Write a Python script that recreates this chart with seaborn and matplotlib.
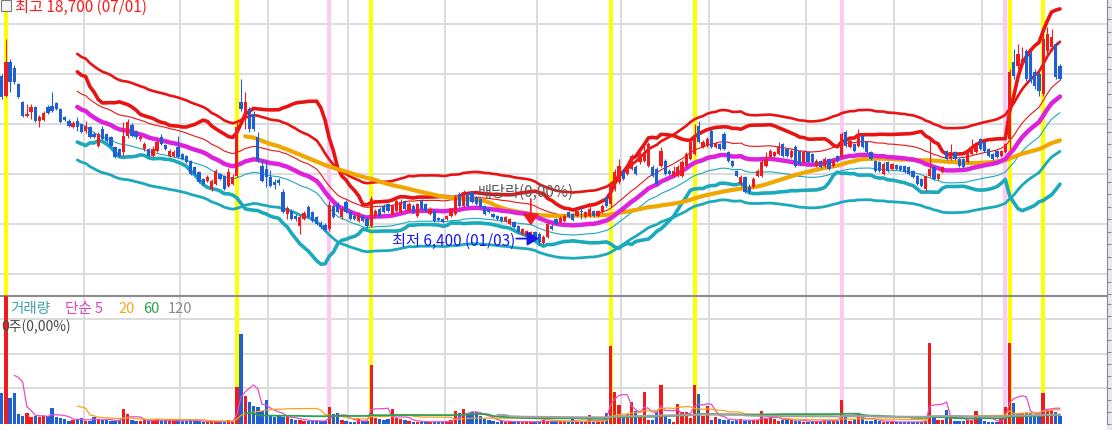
import numpy as np
import pandas as pd
import matplotlib
matplotlib.use("Agg")
import matplotlib.pyplot as plt
from matplotlib.patches import Rectangle
import seaborn as sns

sns.set_style("white")
plt.rcParams['font.family'] = ['Noto Sans CJK KR', 'DejaVu Sans']

# daily bars in won (bar 0 sits just left of the visible window)
open_ = [
    12420, 12350, 11630, 12850, 12640, 12060, 11410, 10910, 11050, 11230,
    10730, 10760, 11230, 11270, 11380, 11160, 10870, 10730, 10510, 10730,
    10620, 10370, 10510, 10260, 9830, 10440, 10260, 10150, 9790, 9720,
    9610, 10190, 10580, 10330, 10080, 9720, 9720, 9470, 9650, 10150,
    9860, 9470, 9470, 9790, 9540, 9470, 9290, 9070, 8890, 8640,
    8570, 8280, 8460, 8820, 8750, 8390, 8460, 8750, 11410, 10870,
    11160, 10980, 10150, 9110, 9000, 8710, 8530, 8600, 8170, 7380,
    7490, 7310, 6950, 7200, 7630, 7450, 7270, 7060, 6980, 6840,
    7670, 7740, 7270, 7810, 7450, 7310, 7130, 7310, 7200, 6950,
    7310, 7560, 7670, 7740, 7380, 7490, 7450, 7850, 7490, 7670,
    7310, 7850, 7740, 7380, 7490, 7240, 7200, 7200, 7310, 7380,
    8100, 7670, 8100, 8170, 7990, 7920, 7670, 7560, 7380, 7310,
    7270, 7130, 7020, 7090, 6950, 6660, 6590, 6590, 6730, 6660,
    6340, 6550, 6950, 7200, 7090, 7130, 7450, 7380, 7310, 7490,
    7270, 7310, 7490, 7310, 7450, 7990, 7740, 8280, 8530, 8930,
    8820, 9000, 9070, 9250, 9290, 9110, 9070, 9000, 9110, 9290,
    8930, 8750, 8750, 8750, 9110, 9360, 9540, 10550, 9790, 9830,
    10370, 9790, 9900, 10260, 9610, 9290, 8930, 8460, 8710, 8350,
    8350, 8750, 8750, 9110, 9430, 9470, 9540, 9900, 9720, 9430,
    9790, 9650, 9250, 9610, 9540, 9110, 9290, 9110, 9360, 9110,
    9470, 9430, 10330, 9790, 9900, 9830, 10190, 9970, 9610, 9290,
    9250, 8820, 9250, 9000, 9140, 9110, 9110, 9070, 8930, 8750,
    8640, 8280, 8750, 9070, 8640, 8890, 9650, 9360, 9610, 9360,
    9360, 9250, 9540, 9610, 10080, 9970, 9720, 9540, 9650, 9470,
    9610, 10080, 12850, 12710, 12780, 13250, 13140, 12490, 12420, 11700,
    13250, 13390, 13500, 12710,
]
high = [
    12530, 12420, 13680, 12960, 12740, 12100, 11450, 11340, 11340, 11270,
    10940, 11090, 11300, 11770, 11410, 11200, 10910, 10800, 10730, 10870,
    10660, 10730, 10550, 10330, 10330, 10550, 10300, 10190, 9830, 9760,
    10690, 10800, 10660, 10400, 10220, 9970, 9760, 9830, 10040, 10260,
    9900, 9720, 9680, 10190, 9580, 9500, 9320, 9110, 8930, 8680,
    8780, 8640, 9000, 8860, 8780, 9040, 8820, 10730, 12240, 11770,
    11230, 11090, 10330, 9360, 9290, 8960, 8640, 8680, 8280, 7670,
    7560, 7380, 7340, 7490, 7700, 7490, 7310, 7130, 7060, 7850,
    7740, 7810, 7630, 7880, 7520, 7380, 7450, 7380, 7270, 8030,
    7560, 7630, 7740, 7780, 7740, 7960, 7920, 7880, 7810, 7740,
    7780, 7920, 7780, 7630, 7560, 7270, 7240, 7340, 7600, 8060,
    8170, 8240, 8170, 8210, 8030, 7960, 7700, 7600, 7420, 7340,
    7310, 7310, 7240, 7130, 6980, 6880, 6800, 6770, 6770, 6730,
    6620, 7130, 7020, 7240, 7310, 7380, 7490, 7420, 7520, 7630,
    7490, 7670, 7520, 7520, 7740, 8030, 8530, 9000, 9360, 9000,
    9140, 9540, 9140, 9720, 9970, 9970, 9140, 9070, 9790, 9360,
    9000, 9110, 9140, 9320, 9610, 10040, 10620, 10730, 10040, 10150,
    10440, 9970, 9940, 10330, 9650, 9320, 8960, 8780, 8750, 8460,
    8710, 9000, 9360, 9610, 9720, 9650, 9970, 9940, 9760, 9720,
    9860, 9680, 9680, 9650, 9580, 9360, 9320, 9430, 9400, 9360,
    9500, 10330, 10400, 10080, 9940, 10440, 10260, 10010, 9650, 9320,
    9290, 9250, 9290, 9220, 9180, 9140, 9140, 9110, 8960, 8780,
    8680, 8780, 10150, 9110, 8860, 9110, 9680, 9900, 9650, 9400,
    9400, 9650, 10080, 9860, 10120, 10010, 9760, 9580, 9680, 9680,
    9940, 12600, 13320, 13500, 13390, 13320, 13250, 12600, 12530, 13860,
    14110, 14040, 13570, 12780,
]
low = [
    12170, 11520, 11590, 11770, 12060, 11560, 10870, 10870, 10800, 10690,
    10510, 10730, 10980, 11050, 11120, 10660, 10730, 10510, 10480, 10370,
    10300, 10300, 10120, 10120, 9790, 10040, 9970, 9790, 9400, 9430,
    9470, 10120, 10150, 10080, 10010, 9650, 9430, 9430, 9610, 9860,
    9680, 9430, 9430, 9400, 9320, 9220, 8780, 8780, 8500, 8420,
    8530, 8210, 8420, 8600, 8240, 8350, 8420, 8710, 11090, 10440,
    10330, 10370, 9250, 8530, 8350, 8350, 8280, 8420, 7420, 7200,
    7160, 7130, 6660, 7160, 7240, 7090, 6980, 6840, 6770, 6770,
    7240, 7420, 7200, 7420, 7160, 7160, 7090, 7090, 6880, 6910,
    7270, 7270, 7420, 7450, 7340, 7450, 7420, 7520, 7450, 7420,
    7270, 7520, 7450, 7340, 7090, 7130, 7060, 7160, 7270, 7340,
    7630, 7630, 7630, 7780, 7700, 7600, 7340, 7420, 7240, 7160,
    7090, 7090, 6980, 6880, 6700, 6620, 6550, 6550, 6520, 6260,
    6300, 6520, 6800, 6980, 7060, 7090, 7240, 7130, 7270, 7200,
    7240, 7270, 7270, 7270, 7420, 7630, 7630, 8210, 8460, 8600,
    8780, 8960, 8780, 9180, 9250, 9070, 8710, 8420, 9070, 8780,
    8780, 8710, 8710, 8710, 9070, 9320, 9500, 9940, 9760, 9790,
    9760, 9760, 9680, 9680, 9250, 9070, 8710, 8420, 8140, 8140,
    8320, 8710, 8710, 9070, 9400, 9430, 9500, 9430, 9430, 9400,
    9070, 9140, 9220, 9220, 9220, 9070, 9040, 9070, 8960, 9070,
    9250, 9360, 9790, 9760, 9610, 9790, 9760, 9580, 9320, 8890,
    8890, 8780, 8890, 8960, 8960, 8930, 8860, 8780, 8680, 8420,
    8350, 8210, 8710, 8600, 8600, 8860, 9320, 9320, 9320, 9070,
    9040, 9220, 9500, 9580, 9680, 9610, 9430, 9320, 9400, 9430,
    9580, 9720, 12240, 12600, 12670, 12170, 12100, 11880, 11630, 11630,
    13140, 13250, 12240, 12200,
]
close = [
    12240, 11590, 12850, 12130, 12130, 11590, 10910, 10980, 11230, 10730,
    10870, 11020, 11020, 11090, 11160, 10690, 10760, 10550, 10660, 10510,
    10330, 10550, 10150, 10150, 10260, 10080, 10010, 9830, 9430, 9470,
    10190, 10690, 10190, 10150, 10150, 9900, 9470, 9720, 9970, 9900,
    9720, 9650, 9610, 9430, 9360, 9250, 8820, 8820, 8530, 8460,
    8710, 8570, 8930, 8640, 8280, 8890, 8710, 10510, 11160, 11410,
    10440, 10440, 9290, 8570, 8710, 8390, 8420, 8500, 7450, 7600,
    7200, 7200, 7270, 7420, 7270, 7130, 7020, 6910, 6800, 7700,
    7270, 7450, 7560, 7450, 7200, 7200, 7380, 7130, 6950, 7920,
    7490, 7310, 7450, 7490, 7670, 7850, 7810, 7560, 7740, 7450,
    7740, 7560, 7490, 7560, 7130, 7160, 7090, 7310, 7560, 7990,
    7670, 8170, 7670, 7810, 7740, 7630, 7380, 7450, 7270, 7200,
    7130, 7270, 7200, 6910, 6730, 6840, 6770, 6730, 6550, 6370,
    6550, 7020, 6840, 7020, 7240, 7310, 7270, 7160, 7490, 7450,
    7450, 7560, 7310, 7490, 7670, 7670, 8390, 8890, 9110, 8640,
    9070, 9470, 8820, 9540, 9610, 9900, 8750, 8460, 9650, 8820,
    8820, 8930, 9070, 9250, 9540, 9970, 10190, 9970, 9970, 10080,
    9790, 9900, 9720, 9720, 9290, 9110, 8750, 8710, 8170, 8170,
    8640, 8930, 9250, 9360, 9650, 9610, 9790, 9470, 9470, 9650,
    9110, 9180, 9610, 9250, 9250, 9290, 9070, 9360, 9000, 9290,
    9290, 10260, 9830, 10010, 9650, 10260, 9790, 9610, 9360, 8930,
    8930, 9180, 8930, 9180, 9000, 8960, 8890, 8820, 8710, 8460,
    8390, 8750, 9000, 8640, 8820, 9070, 9360, 9610, 9360, 9110,
    9070, 9610, 9790, 9830, 9720, 9650, 9470, 9360, 9430, 9650,
    9900, 12490, 12350, 13140, 12960, 12240, 12170, 11990, 11810, 13680,
    13860, 13750, 12310, 12240,
]
# volume, thousand shares
volume = [
    20, 31, 135, 26, 31, 10, 8, 11, 7, 8,
    7, 8, 8, 16, 7, 6, 5, 3, 4, 5,
    6, 3, 3, 7, 4, 4, 4, 3, 3, 4,
    15, 10, 4, 3, 3, 4, 3, 4, 5, 3,
    3, 3, 3, 4, 3, 3, 4, 3, 3, 2,
    2, 3, 2, 2, 2, 4, 2, 37, 90, 28,
    22, 18, 17, 13, 24, 8, 7, 8, 7, 7,
    5, 4, 4, 3, 3, 3, 3, 3, 3, 17,
    10, 11, 4, 3, 2, 2, 5, 3, 3, 59,
    6, 5, 4, 5, 15, 6, 5, 4, 3, 2,
    2, 2, 3, 2, 2, 2, 2, 3, 4, 13,
    11, 15, 10, 12, 12, 8, 5, 4, 3, 2,
    3, 2, 3, 2, 2, 2, 3, 2, 2, 2,
    4, 2, 3, 3, 3, 3, 2, 5, 2, 2,
    2, 9, 2, 2, 3, 11, 78, 32, 19, 7,
    10, 22, 13, 7, 32, 4, 4, 12, 39, 8,
    5, 2, 20, 12, 12, 6, 39, 30, 8, 18,
    4, 7, 5, 4, 4, 3, 4, 5, 3, 3,
    4, 4, 13, 5, 6, 5, 3, 4, 5, 5,
    3, 3, 2, 2, 3, 3, 3, 4, 4, 3,
    3, 24, 8, 3, 5, 9, 7, 3, 3, 4,
    3, 2, 2, 2, 2, 2, 2, 2, 2, 2,
    2, 3, 81, 7, 4, 4, 14, 7, 3, 3,
    3, 4, 4, 13, 7, 3, 2, 2, 2, 5,
    17, 81, 21, 11, 11, 11, 11, 9, 8, 31,
    14, 14, 12, 8,
]

month_starts = [21, 44, 65, 84, 107, 129, 149, 170, 193, 214, 235]
yellow_days = [2, 57, 89, 146, 166, 241, 249]
pink_days = [79, 201, 240]
price_grid = [14220, 12420, 10620, 8820, 7020, 5220]
vol_grid = [36, 70, 105]
ex_div_day = 127

UP, DOWN = '#ee1c1c', '#1f5fd2'
GRID = '#dcdcdc'

df = pd.DataFrame({'open': open_, 'high': high, 'low': low,
                   'close': close, 'vol': volume})
df['i'] = np.arange(len(df))
c = df['close']
df['ma20'] = c.rolling(20).mean()
sd = c.rolling(20).std(ddof=0)
df['bb_up'] = df['ma20'] + 2 * sd
df['bb_dn'] = df['ma20'] - 2 * sd
df['env_up'] = df['ma20'] * 1.17
df['env_dn'] = df['ma20'] * 0.83
df['thin_up'] = df['ma20'] * 1.05
df['thin_dn'] = df['ma20'] * 0.95
df['ma60'] = c.rolling(60).mean()
for n in (5, 20, 60, 120):
    df[f'v{n}'] = df['vol'].rolling(n).mean()
bar_col = np.where(df['close'] >= df['open'], UP, DOWN)

W, H = 1112, 431
fig = plt.figure(figsize=(W / 100, H / 100), dpi=100)
fig.patch.set_facecolor('white')
ax = fig.add_axes([0, 1 - 296 / H, 1107 / W, 296 / H])
axv = fig.add_axes([0, 6 / H, 1107 / W, 128 / H])

for a in (ax, axv):
    a.set_xlim(0.6, 264.2)
    for m in month_starts:
        a.axvline(m - 0.5, color=GRID, lw=1.4, zorder=0.5)
    for d in pink_days:
        a.axvspan(d - 0.48, d + 0.48, color='#ffc8f5', lw=0, zorder=0.6)
    for d in yellow_days:
        a.axvspan(d - 0.48, d + 0.48, color='#ffff00', lw=0, zorder=0.6)
    a.set_xticks([])
    for s in ('top', 'left', 'bottom'):
        a.spines[s].set_visible(False)
    a.spines['right'].set_color('#8a8a8a')
    a.yaxis.tick_right()
    a.tick_params(axis='y', direction='out', length=3, color='#8a8a8a',
                  labelright=False)


def line(a, col, color, lw, z=2):
    sns.lineplot(data=df, x='i', y=col, ax=a, color=color, linewidth=lw,
                 estimator=None, legend=False, zorder=z)


# price panel
ax.set_ylim(15120 - 36 * 296, 15120)
ax.set_yticks(np.arange(4500, 15100, 450))
for g in price_grid:
    ax.axhline(g, color=GRID, lw=1.4, zorder=0.5)
line(ax, 'thin_up', '#e81414', 0.8)
line(ax, 'thin_dn', '#1aaabb', 0.8)
line(ax, 'env_up', '#e81414', 1.9)
line(ax, 'env_dn', '#1aaabb', 2.0)
line(ax, 'bb_up', '#e81414', 2.6)
line(ax, 'bb_dn', '#1aaabb', 2.6)
line(ax, 'ma60', '#f0a800', 3.0)
line(ax, 'ma20', '#dd22dd', 3.2)
ax.vlines(df['i'], df['low'], df['high'], colors=bar_col, lw=0.8, zorder=4)
body = (df['close'] - df['open']).abs().clip(lower=30)
ax.bar(df['i'], body, bottom=df[['open', 'close']].min(axis=1), width=0.78,
       color=bar_col, lw=0, zorder=5)
ax.set_xlabel('')
ax.set_ylabel('')

# ex-dividend marker and period low
ax.annotate('', xy=(ex_div_day, df['high'][ex_div_day]), xytext=(0, 32),
            textcoords='offset pixels',
            arrowprops=dict(arrowstyle='-|>,head_length=0.5,head_width=0.35',
                            color=UP, lw=1.2, mutation_scale=14,
                            shrinkA=0, shrinkB=4), zorder=6)
low_idx = int(df['low'].idxmin())
tip = (low_idx, (df['high'][low_idx] + df['low'][low_idx]) / 2)
ax.annotate('', xy=tip, xytext=(-23, 0), textcoords='offset pixels',
            arrowprops=dict(arrowstyle='-|>,head_length=0.6,head_width=0.35',
                            color='#1a1ae6', lw=1.3, mutation_scale=12,
                            shrinkA=0, shrinkB=0), zorder=6)

# volume panel
axv.set_ylim(0, 128)
axv.set_yticks(np.arange(0, 128, 12))
for g in vol_grid:
    axv.axhline(g, color=GRID, lw=1.4, zorder=0.5)
axv.spines['top'].set_visible(True)
axv.spines['top'].set_color('#8c8c8c')
axv.spines['top'].set_linewidth(1.5)
axv.bar(df['i'], df['vol'], width=0.8, color=bar_col, lw=0, zorder=3)
line(axv, 'v5', '#e64bc8', 0.9, 4)
line(axv, 'v20', '#f5a31a', 0.9, 4)
line(axv, 'v60', '#2ba24a', 1.3, 4)
line(axv, 'v120', '#a0a0a0', 1.5, 4)
axv.set_xlabel('')
axv.set_ylabel('')


def px(x, y):
    return x / W, 1 - y / H


fig.add_artist(Rectangle((1107 / W, 0), 5 / W, 1, transform=fig.transFigure,
                         color='#e4eaf4', zorder=-1))
fig.add_artist(Rectangle(px(1, 12), 10 / W, 11 / H, transform=fig.transFigure,
                         facecolor='#f4f4f4', edgecolor='#7a7a7a', lw=0.8))

fs = 11
fig.text(*px(15, 11.5), '최고 18,700 (07/01)', color='#ff1a1a', fontsize=fs,
         va='baseline')
fig.text(*px(478, 197), '배당락(0,00%)', color='#5a5a5a', fontsize=fs,
         va='baseline')
fig.text(*px(392, 246), '최저 6,400 (01/03)', color='#1a1ae6', fontsize=fs,
         va='baseline')
for x, s, col in [(10, '거래량', '#3fa3a8'), (65, '단순 5', '#e040c0'),
                  (118, '20', '#f5a623'), (143, '60', '#2ca050'),
                  (168, '120', '#8a8a8a')]:
    fig.text(*px(x, 313), s, color=col, fontsize=10.5, va='baseline')
fig.text(*px(1, 331), '0주(0,00%)', color='#4a4a4a', fontsize=10,
         va='baseline')

fig.savefig('out.png', dpi=100)
